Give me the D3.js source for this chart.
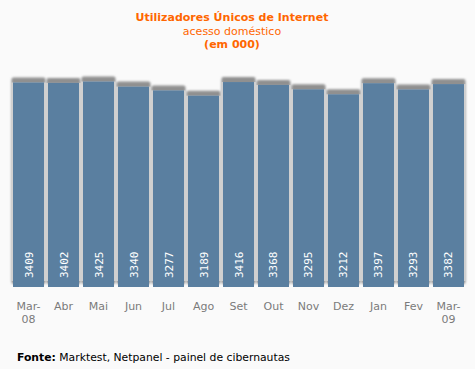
<!DOCTYPE html>
<html>
<head>
<meta charset="utf-8">
<script src="https://cdn.jsdelivr.net/npm/d3@7"></script>
<style>
  body { margin: 0; background: #fafafa; }
  svg { display: block; }
</style>
</head>
<body>
<script>
// months (two-line labels use \n)
const months = ["Mar-\n08", "Abr", "Mai", "Jun", "Jul", "Ago", "Set", "Out", "Nov", "Dez", "Jan", "Fev", "Mar-\n09"];
const users = [3409, 3402, 3425, 3340, 3277, 3189, 3416, 3368, 3295, 3212, 3397, 3293, 3382];

const W = 475, H = 369;
const svg = d3.select("body").append("svg").attr("width", W).attr("height", H);
svg.append("rect").attr("width", W).attr("height", H).attr("fill", "#fafafa");

const defs = svg.append("defs");
defs.append("filter").attr("id", "blur").attr("x", "-20%").attr("y", "-20%").attr("width", "140%").attr("height", "140%")
	.append("feGaussianBlur").attr("stdDeviation", 1.3);

const x = d3.scaleBand().domain(d3.range(months.length)).range([13, 464]).paddingInner(0.114).paddingOuter(0);
const y = d3.scaleLinear().domain([0, 3500]).range([287, 77]);

const font = "Verdana, 'DejaVu Sans', sans-serif";

// shadows
svg.selectAll("rect.sh").data(users).enter().append("rect")
	.attr("class", "sh")
	.attr("x", (d, i) => x(i) - 1.5)
	.attr("y", d => y(d) - 5)
	.attr("width", x.bandwidth() + 3)
	.attr("height", d => y(0) - y(d) + 2)
	.attr("rx", 2)
	.attr("fill", "#909090")
	.attr("filter", "url(#blur)");

svg.selectAll("rect.side").data(users).enter().append("rect")
	.attr("class", "side")
	.attr("x", (d, i) => x(i) - 2)
	.attr("y", d => y(d))
	.attr("width", x.bandwidth() + 4)
	.attr("height", d => y(0) - y(d) - 6)
	.attr("fill", "#d0d0d0");

svg.selectAll("rect.bar").data(users).enter().append("rect")
	.attr("class", "bar")
	.attr("x", (d, i) => x(i))
	.attr("y", d => y(d))
	.attr("width", x.bandwidth())
	.attr("height", d => y(0) - y(d))
	.attr("fill", "#5a7fa0");

// values
svg.selectAll("text.val").data(users).enter().append("text")
	.attr("class", "val")
	.attr("transform", (d, i) => `translate(${x(i) + x.bandwidth() / 2 + 4},278) rotate(-90)`)
	.attr("font-family", "'DejaVu Sans Mono', monospace")
	.attr("font-size", 11)
	.attr("fill", "#fff")
	.text(d => d);

// month labels
const lab = svg.selectAll("text.m").data(months).enter().append("text")
	.attr("class", "m")
	.attr("x", (d, i) => x(i) + x.bandwidth() / 2)
	.attr("y", 310)
	.attr("text-anchor", "middle")
	.attr("font-family", font)
	.attr("font-size", 11)
	.attr("fill", "#7a7a7a");
lab.selectAll("tspan").data(d => d.split("\n")).enter().append("tspan")
	.attr("x", function() { return this.parentNode.getAttribute("x"); })
	.attr("dy", (d, i) => i ? 13 : 0)
	.text(d => d);

// titles
const titles = [
	{ t: "Utilizadores Únicos de Internet", w: "bold", y: 21 },
	{ t: "acesso doméstico", w: "normal", y: 35 },
	{ t: "(em 000)", w: "bold", y: 48 }
];
svg.selectAll("text.title").data(titles).enter().append("text")
	.attr("x", 232).attr("y", d => d.y)
	.attr("text-anchor", "middle")
	.attr("font-family", font)
	.attr("font-size", 11)
	.attr("font-weight", d => d.w)
	.attr("fill", "#ff6600")
	.text(d => d.t);

// source
const src = svg.append("text").attr("x", 17).attr("y", 361)
	.attr("font-family", font).attr("font-size", 10.8).attr("fill", "#000");
src.append("tspan").attr("font-weight", "bold").text("Fonte:");
src.append("tspan").text(" Marktest, Netpanel - painel de cibernautas");
</script>
</body>
</html>
